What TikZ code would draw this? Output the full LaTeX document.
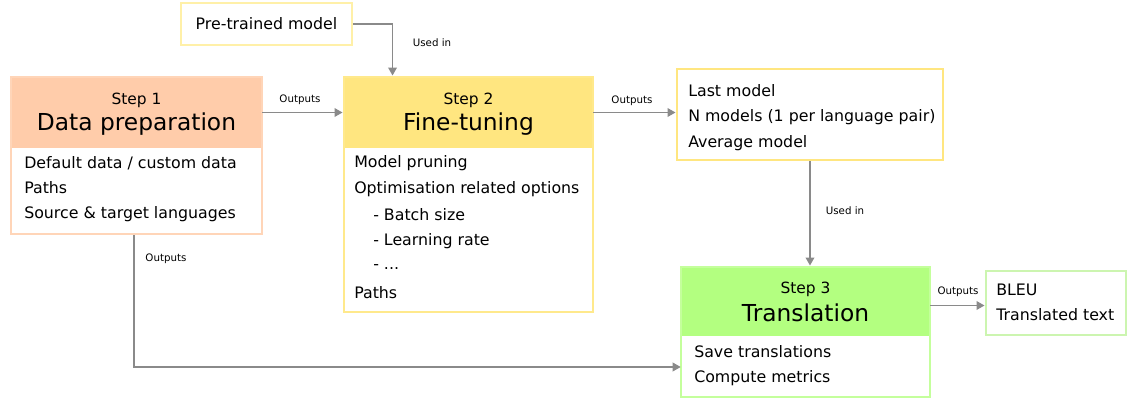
\documentclass[tikz,border=0pt]{standalone}
\usepackage{fontspec}
\setmainfont{DejaVu Sans}
\usetikzlibrary{arrows.meta}
\definecolor{s1head}{HTML}{FFCCAA}
\definecolor{s1bord}{HTML}{FFD5B8}
\definecolor{s2head}{HTML}{FFE680}
\definecolor{s2bord}{HTML}{FFE98C}
\definecolor{prebord}{HTML}{FFF0A8}
\definecolor{s3head}{HTML}{B3FF80}
\definecolor{s3bord}{HTML}{C4FF9C}
\definecolor{bleubord}{HTML}{CCF5B0}
\definecolor{conn}{HTML}{8A8A8A}
\tikzset{
  boxframe/.style={draw=#1, line width=2.2pt, rectangle, inner sep=0pt},
  headfill/.style={fill=#1, rectangle, inner sep=0pt, draw=none},
  bodytext/.style={anchor=west, inner sep=0pt, font=\fontsize{11.85}{14}\selectfont},
  steptext/.style={inner sep=0pt, font=\fontsize{11.6}{13}\selectfont},
  titletext/.style={inner sep=0pt, font=\fontsize{17.5}{20}\selectfont},
  lbl/.style={inner sep=0pt, font=\fontsize{7.7}{9}\selectfont},
  conarrow/.style={draw=conn, line width=1.1pt, -{Triangle[length=6pt,width=6.5pt]}},
}
\begin{document}
\begin{tikzpicture}[x=0.75pt,y=-0.75pt]
\useasboundingbox (0,0) rectangle (1136,406);
% Step 1
\node[headfill=s1head, minimum width=188.25pt, minimum height=53.25pt] (s1h) at (136.5,112.5) {};
\node[boxframe=s1bord, minimum width=188.25pt, minimum height=117.75pt] (s1) at (136.5,155.5) {};
\node[steptext] (s1t1) at (136.5,100) {Step 1};
\node[titletext] (s1t2) at (136.5,124) {Data preparation};
\node[bodytext] (s1l1) at (24,163) {Default data / custom data};
\node[bodytext] (s1l2) at (24,188) {Paths};
\node[bodytext] (s1l3) at (24,214) {Source \& target languages};
% Step 2
\node[headfill=s2head, minimum width=186.75pt, minimum height=53.25pt] (s2h) at (468.5,112.5) {};
\node[boxframe=s2bord, minimum width=186.75pt, minimum height=176.25pt] (s2) at (468.5,194.5) {};
\node[steptext] (s2t1) at (468.5,100) {Step 2};
\node[titletext] (s2t2) at (468.5,124) {Fine-tuning};
\node[bodytext] (s2l1) at (354,163) {Model pruning};
\node[bodytext] (s2l2) at (354,189) {Optimisation related options};
\node[bodytext] (s2l3) at (373,215) {- Batch size};
\node[bodytext] (s2l4) at (373,241) {- Learning rate};
\node[bodytext] (s2l5) at (373,267) {- ...};
\node[bodytext] (s2l6) at (354,293) {Paths};
% Pre-trained
\node[boxframe=prebord, line width=1.5pt, minimum width=128.25pt, minimum height=31.5pt, font=\fontsize{11.85}{14}\selectfont] (pre) at (266.5,24) {Pre-trained model};
% Last model
\node[boxframe=s2head, minimum width=199.5pt, minimum height=68.25pt] (lm) at (810,114.5) {};
\node[bodytext] (lml1) at (688,91) {Last model};
\node[bodytext] (lml2) at (688,117) {N models (1 per language pair)};
\node[bodytext] (lml3) at (688,143) {Average model};
% Step 3
\node[headfill=s3head, minimum width=186.75pt, minimum height=51.75pt] (s3h) at (805.5,301.5) {};
\node[boxframe=s3bord, minimum width=186.75pt, minimum height=97.5pt] (s3) at (805.5,332) {};
\node[minimum width=186.75pt, minimum height=45.75pt, inner sep=0pt] (s3b) at (805.5,367) {};
\node[steptext] (s3t1) at (805.5,289) {Step 3};
\node[titletext] (s3t2) at (805.5,313) {Translation};
\node[bodytext] (s3l1) at (694,352) {Save translations};
\node[bodytext] (s3l2) at (694,378) {Compute metrics};
% BLEU
\node[boxframe=bleubord, minimum width=105pt, minimum height=48pt] (bleu) at (1056,303) {};
\node[bodytext] (bl1) at (996,290) {BLEU};
\node[bodytext] (bl2) at (996,315) {Translated text};
% Connectors
\draw[conarrow] (s1h.east) -- (s1h.east -| s2.west);
\node[lbl] (o1) at (300,100) {Outputs};
\coordinate (preend) at ([xshift=37.5pt]s2.north west);
\draw[conarrow] (pre.east) -| (preend);
\node[lbl] (u1) at (432,43) {Used in};
\draw[conarrow] (s2h.east) -- (s2h.east -| lm.west);
\node[lbl] (o2) at (632,101) {Outputs};
\draw[conarrow] (lm.south) -- (lm.south |- s3.north);
\node[lbl] (u2) at (845,211) {Used in};
\draw[conarrow] ([xshift=-2pt]s1.south) |- (s3b.west);
\node[lbl] (o3) at (166,259) {Outputs};
\draw[conarrow] ([yshift=-3pt]s3h.east) -- ([yshift=-3pt]s3h.east -| bleu.west);
\node[lbl] (o4) at (958,292) {Outputs};
\end{tikzpicture}
\end{document}
